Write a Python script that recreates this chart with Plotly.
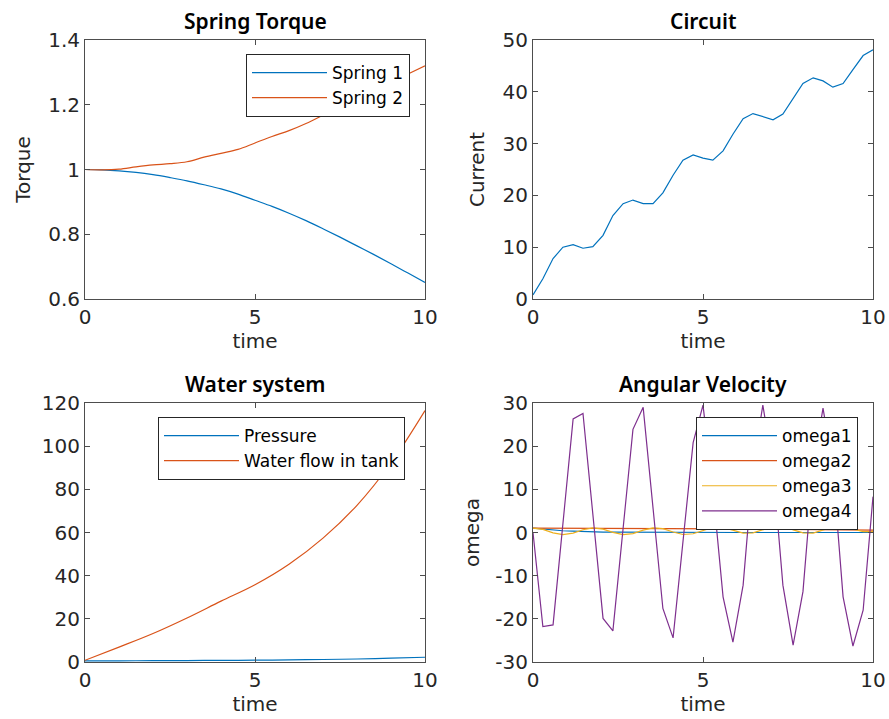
import plotly.graph_objects as go

# ---------------- data ----------------
t35 = [0, 0.29, 0.59, 0.88, 1.18, 1.47, 1.76, 2.06, 2.35, 2.65, 2.94, 3.24, 3.53,
       3.82, 4.12, 4.41, 4.71, 5.0, 5.29, 5.59, 5.88, 6.18, 6.47, 6.76, 7.06, 7.35,
       7.65, 7.94, 8.24, 8.53, 8.82, 9.12, 9.41, 9.71, 10]

t_half = [0, 0.5, 1, 1.5, 2, 2.5, 3, 3.5, 4, 4.5, 5, 5.5, 6, 6.5, 7, 7.5, 8, 8.5, 9, 9.5, 10]
spring1 = [1.0, 0.999, 0.996, 0.991, 0.984, 0.975, 0.965, 0.953, 0.94, 0.924, 0.905,
           0.886, 0.865, 0.842, 0.817, 0.791, 0.764, 0.737, 0.709, 0.68, 0.651]
spring2 = [1.0, 0.999, 1.001, 1.008, 1.014, 1.018, 1.024, 1.038, 1.05, 1.062, 1.082,
           1.102, 1.12, 1.142, 1.168, 1.195, 1.22, 1.245, 1.27, 1.295, 1.32]

current = [0.8, 3.9, 7.8, 10.0, 10.5, 9.8, 10.1, 12.3, 16.1, 18.4, 19.1, 18.4, 18.4,
           20.5, 23.9, 26.8, 27.8, 27.2, 26.8, 28.6, 31.8, 34.8, 35.8, 35.2, 34.6, 35.7,
           38.6, 41.6, 42.7, 42.1, 40.9, 41.6, 44.3, 47.0, 48.1]

t_int = [0, 1, 2, 3, 4, 5, 6, 7, 8, 9, 10]
pressure = [0.5, 0.55, 0.6, 0.67, 0.75, 0.85, 0.98, 1.15, 1.4, 1.75, 2.2]
water_flow = [0.8, 6.9, 13.2, 20.4, 28.2, 35.8, 45.3, 57.4, 72.6, 92.2, 116.5]

omega1 = [1.0, 0.75, 0.55, 0.4, 0.3, 0.2, 0.14, 0.1, 0.07, 0.05, 0.03, 0.02, 0.01,
          0.01, 0, 0, 0, 0, 0, 0, 0, 0, 0, 0, 0, 0, 0, 0, 0, 0, 0, 0, 0, 0, 0]
omega2 = [1.0, 1.0, 0.99, 0.99, 0.98, 0.98, 0.97, 0.97, 0.96, 0.95, 0.95, 0.94, 0.93,
          0.92, 0.91, 0.9, 0.89, 0.88, 0.87, 0.85, 0.84, 0.82, 0.81, 0.79, 0.77, 0.75,
          0.73, 0.71, 0.69, 0.67, 0.65, 0.62, 0.6, 0.58, 0.55]
omega3 = [1.0, 0.72, -0.07, -0.5, -0.15, 0.63, 1.09, 0.79, 0.03, -0.49, -0.24, 0.55, 1.08,
          0.88, 0.11, -0.46, -0.29, 0.44, 1.2, 1.2, 0.5, -0.15, -0.1, 0.6, 1.35, 1.35,
          0.6, -0.1, -0.15, 0.5, 1.3, 1.4, 0.8, 0.2, 0.2]
omega4 = [0, -21.8, -21.4, 2.4, 26.3, 27.6, 3.9, -19.9, -22.8, 0.5, 23.9, 29.0, 5.7,
          -17.6, -24.4, -1.7, 20.8, 29.5, 10, -14.9, -25.4, -12.2, 15, 29.5, 15, -12.2,
          -26.1, -13.7, 15, 28.8, 15, -14.9, -26.3, -18.0, 8.3]

omega_ticks = [-30, -20, -10, 0, 10, 20, 30]
omega_ticktext = ["-30", "-20", "-10", "0", "10", "20", "30"]

titles = ["Spring Torque", "Circuit", "Water system", "Angular Velocity"]

C1, C2, C3, C4 = "#0072BD", "#D95319", "#EDB120", "#7E2F8E"
W = 889
H = 719
FONT = "DejaVu Sans"
TFONT = "Noto Sans"
TXT = "#262626"

fig = go.Figure()
lw = 1.2

fig.add_trace(go.Scatter(x=t_half, y=spring1, mode="lines", name="Spring 1",
                         line=dict(color=C1, width=lw, shape="spline"), xaxis="x", yaxis="y", legend="legend"))
fig.add_trace(go.Scatter(x=t_half, y=spring2, mode="lines", name="Spring 2",
                         line=dict(color=C2, width=lw, shape="spline"), xaxis="x", yaxis="y", legend="legend"))

fig.add_trace(go.Scatter(x=t35, y=current, mode="lines", name="Current", showlegend=False,
                         line=dict(color=C1, width=lw), xaxis="x2", yaxis="y2"))

fig.add_trace(go.Scatter(x=t_int, y=pressure, mode="lines", name="Pressure",
                         line=dict(color=C1, width=lw, shape="spline"), xaxis="x3", yaxis="y3", legend="legend2"))
fig.add_trace(go.Scatter(x=t_int, y=water_flow, mode="lines", name="Water flow in tank",
                         line=dict(color=C2, width=lw, shape="spline"), xaxis="x3", yaxis="y3", legend="legend2"))

for name, vals, col in [("omega1", omega1, C1), ("omega2", omega2, C2),
                        ("omega3", omega3, C3), ("omega4", omega4, C4)]:
    fig.add_trace(go.Scatter(x=t35, y=vals, mode="lines", name=name,
                             line=dict(color=col, width=lw), xaxis="x4", yaxis="y4", legend="legend3"))

# domains in pixel -> paper (margins 0)
xd_left = [85 / W, 425 / W]
xd_right = [533 / W, 873 / W]
yd_top = [1 - 299 / H, 1 - 40 / H]
yd_bot = [1 - 662 / H, 1 - 403 / H]

def xax(domain, anchor):
    return dict(domain=domain, anchor=anchor, range=[0, 10], tickvals=[0, 5, 10],
                automargin=False,
                showline=True, linecolor="#4d4d4d", linewidth=1, mirror="ticks",
                ticks="inside", ticklen=5, tickcolor="#4d4d4d", showgrid=False, zeroline=False,
                tickfont=dict(family=FONT, size=20, color=TXT),
                title=dict(text="time", font=dict(family=FONT, size=20, color=TXT), standoff=2))

def yax(domain, anchor, rng, dt, title, standoff=12):
    return dict(domain=domain, anchor=anchor, range=rng, dtick=dt, tick0=rng[0],
                automargin=False,
                showline=True, linecolor="#4d4d4d", linewidth=1, mirror="ticks",
                ticks="inside", ticklen=5, tickcolor="#4d4d4d", showgrid=False, zeroline=False,
                tickfont=dict(family=FONT, size=20, color=TXT),
                title=dict(text=title, font=dict(family=FONT, size=20, color=TXT), standoff=standoff))

legend_common = dict(bgcolor="white", bordercolor="#262626", borderwidth=1,
                     font=dict(family=FONT, size=17, color="#000000"),
                     xanchor="left", yanchor="top", tracegroupgap=0, itemwidth=75)

y4 = yax(yd_bot, "x4", [-30, 30], 10, "omega", standoff=10)
y4.update(tickvals=omega_ticks, ticktext=omega_ticktext)
y4.pop("dtick")
y4.pop("tick0")

fig.update_layout(
    template="none",
    width=W, height=H, autosize=False,
    margin=dict(l=0, r=0, t=0, b=0, autoexpand=False),
    paper_bgcolor="white", plot_bgcolor="white",
    xaxis=xax(xd_left, "y"), yaxis=yax(yd_top, "x", [0.6, 1.4], 0.2, "Torque"),
    xaxis2=xax(xd_right, "y2"), yaxis2=yax(yd_top, "x2", [0, 50], 10, "Current"),
    xaxis3=xax(xd_left, "y3"), yaxis3=yax(yd_bot, "x3", [0, 120], 20, ""),
    xaxis4=xax(xd_right, "y4"), yaxis4=y4,
    legend=dict(x=246 / W, y=1 - 54 / H, **legend_common),
    legend2=dict(x=158 / W, y=1 - 417 / H, **legend_common),
    legend3=dict(x=696 / W, y=1 - 417 / H, **legend_common),
    showlegend=True,
)

centers = [((xd_left[0] + xd_left[1]) / 2, yd_top[1]), ((xd_right[0] + xd_right[1]) / 2, yd_top[1]),
           ((xd_left[0] + xd_left[1]) / 2, yd_bot[1]), ((xd_right[0] + xd_right[1]) / 2, yd_bot[1])]
for (cx, cy), txt in zip(centers, titles):
    fig.add_annotation(x=cx, y=cy, xref="paper", yref="paper", text=txt, showarrow=False,
                       xanchor="center", yanchor="bottom", yshift=3,
                       font=dict(family=TFONT, size=21, color="black", weight=600))

fig.write_html("out.html")
